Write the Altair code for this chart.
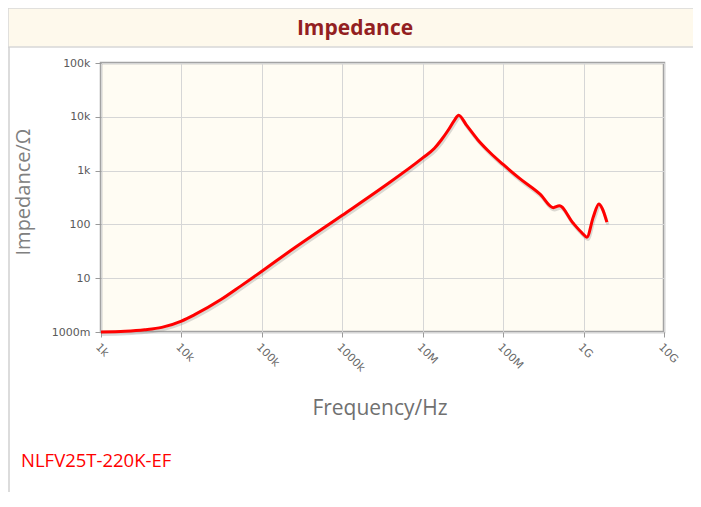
import altair as alt
import pandas as pd

# ---- data ----
freq_hz = [1e3, 2e3, 3.5e3, 5.7e3, 1e4, 1.46e4, 3.1e4, 5.5e4, 1e5, 2.24e5, 1e6, 3e6,
           1e7, 1.4e7, 1.7e7, 2.1e7, 2.5e7, 2.8e7, 3.5e7, 4.8e7, 6.9e7, 1e8,
           1.63e8, 2.9e8, 4.2e8, 5e8, 7.4e8, 9.6e8, 1.1e9, 1.32e9, 1.55e9, 1.7e9, 1.95e9]
impedance_ohm = [1.0, 1.03, 1.1, 1.22, 1.6, 2.1, 4.0, 7.2, 13.5, 32, 148, 460,
                 1720, 2600, 3700, 5800, 8800, 10700, 7000, 3800, 2150, 1300,
                 700, 360, 205, 222, 106, 69, 58, 137, 240, 200, 110]

x_ticks = [1e3, 1e4, 1e5, 1e6, 1e7, 1e8, 1e9, 1e10]
x_tick_labels = ["1k", "10k", "100k", "1000k", "10M", "100M", "1G", "10G"]
y_ticks = [1, 10, 100, 1e3, 1e4, 1e5]
y_tick_labels = ["1000m", "10", "100", "1k", "10k", "100k"]

chart_title = "Impedance"
x_title = "Frequency/Hz"
y_title = "Impedance/Ω"
part_name = "NLFV25T-220K-EF"

W, H = 563, 269

df = pd.DataFrame({"f": freq_hz, "z": impedance_ohm})
one = pd.DataFrame({"k": [0]})


def label_expr(labels, first_exp):
    arr = "[" + ",".join("'%s'" % s for s in labels) + "]"
    return "%s[round(log(datum.value)/LN10) - %d]" % (arr, first_exp)


x_enc = alt.X("f:Q", scale=alt.Scale(type="log", domain=[1e3, 1e10]),
              axis=alt.Axis(values=x_ticks, labelExpr=label_expr(x_tick_labels, 3),
                            labelAngle=45, labelAlign="left", labelBaseline="top",
                            labelFont="DejaVu Sans", labelFontSize=11, labelColor="#6a6a6a",
                            tickColor="#9a9a9a", tickSize=5, labelPadding=4,
                            domain=False, grid=True, gridColor="#d6d6d6", title=None))
y_enc = alt.Y("z:Q", scale=alt.Scale(type="log", domain=[1, 1e5]),
              axis=alt.Axis(values=y_ticks, labelExpr=label_expr(y_tick_labels, 0),
                            labelFont="DejaVu Sans", labelFontSize=11, labelColor="#5a5a5a",
                            tickColor="#9a9a9a", tickSize=6, labelPadding=5,
                            domain=False, grid=True, gridColor="#d6d6d6", title=None))

shadow = alt.Chart(df).transform_calculate(
    fs="datum.f * 1.03", zs="datum.z * 0.9"
).mark_line(interpolate="monotone", color="#888", opacity=0.3, strokeWidth=3).encode(
    x=alt.X("fs:Q", scale=alt.Scale(type="log", domain=[1e3, 1e10])),
    y=alt.Y("zs:Q", scale=alt.Scale(type="log", domain=[1, 1e5])),
)
line = alt.Chart(df).mark_line(interpolate="monotone", color="#ff0000", strokeWidth=3).encode(
    x=x_enc, y=y_enc)

band = alt.Chart(one).mark_rect(fill="#fef9ec", stroke="#d8d8d8", strokeWidth=1.5).encode(
    x=alt.value(-93), x2=alt.value(W + 30), y=alt.value(-55), y2=alt.value(-16))
left_border = alt.Chart(one).mark_rule(color="#d0d0d0", strokeWidth=1.5).encode(
    x=alt.value(-92), y=alt.value(-16), y2=alt.value(H + 160))
title_txt = alt.Chart(one).mark_text(text=chart_title, font="Open Sans", fontWeight="bold",
                                     fontSize=21, color="#931f22",
                                     baseline="alphabetic").encode(
    x=alt.value(254), y=alt.value(-28.5))
ytitle = alt.Chart(one).mark_text(text=y_title, font="Open Sans", fontSize=20, angle=270,
                                  color="#808080", baseline="alphabetic").encode(
    x=alt.value(-71), y=alt.value(129))
xtitle = alt.Chart(one).mark_text(text=x_title, font="Open Sans", fontSize=21,
                                  color="#707070", baseline="alphabetic").encode(
    x=alt.value(279), y=alt.value(352))
part = alt.Chart(one).mark_text(text=part_name, font="Open Sans", fontSize=18.5, align="left",
                                color="#ff0000", baseline="alphabetic").encode(
    x=alt.value(-80), y=alt.value(404))

chart = alt.layer(band, left_border, title_txt, ytitle, xtitle, part, shadow, line).properties(
    width=W, height=H,
    background="white",
    autosize=alt.AutoSizeParams(type="none"),
    padding={"left": 93, "top": 55, "right": 29, "bottom": 160},
).configure_view(stroke="#a3a3a3", strokeWidth=2.5, fill="#fffcf3")

chart.save("out.html", embed_options={"renderer": "svg", "actions": False})
